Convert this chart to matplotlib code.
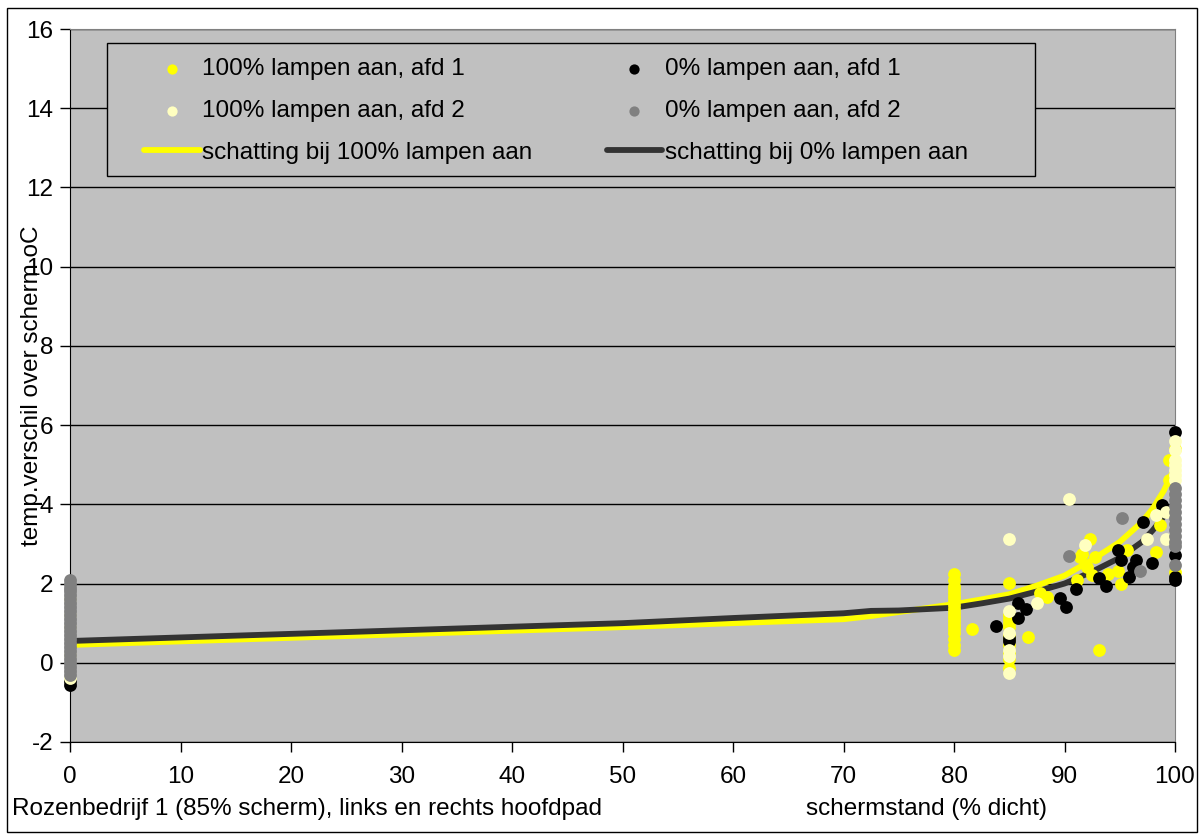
import matplotlib.pyplot as plt
from matplotlib.patches import Rectangle

plt.rcParams['font.family'] = ['Liberation Sans', 'DejaVu Sans']
plt.rcParams['axes.unicode_minus'] = False

# 100% lampen aan, afd 1
x_aan1 = [80, 80, 80, 80, 80, 80, 80, 80, 80, 80, 80, 80, 80, 80, 80, 80, 80, 80,
          81.6,
          85, 85, 85, 85, 85, 85, 85, 85, 85, 85, 85,
          86.7, 87.8, 88.4, 91.1, 91.4, 91.6, 92.0, 92.3, 92.5, 92.8, 93.9, 93.1,
          94.8, 95.1, 95.7, 98.3, 98.6, 99.5, 99.5, 100, 100]
y_aan1 = [2.25, 2.1, 1.95, 1.85, 1.75, 1.65, 1.55, 1.45, 1.35, 1.25, 1.15, 1.05,
          0.95, 0.85, 0.75, 0.6, 0.45, 0.32,
          0.85,
          2.02, 1.2, 1.1, 1.0, 0.9, 0.7, 0.6, 0.45, 0.25, 0.1, -0.12,
          0.65, 1.77, 1.65, 2.1, 2.68, 2.75, 2.43, 3.13, 2.22, 2.68, 2.25, 0.32,
          2.32, 2.0, 2.85, 2.8, 3.48, 5.13, 4.62, 2.3, 5.4]

# 100% lampen aan, afd 2
x_aan2 = [0, 0, 0, 0, 0,
          85, 85, 85, 85, 85, 85,
          87.5, 90.4, 91.9, 97.5, 98.3, 99.2, 99.2,
          100, 100, 100, 100, 100, 100, 100]
y_aan2 = [-0.38, 0.2, 0.9, 1.2, 1.6,
          3.13, 1.31, 0.75, 0.33, 0.16, -0.26,
          1.5, 4.14, 2.98, 3.13, 3.74, 3.8, 3.13,
          5.6, 5.38, 5.13, 5.0, 4.87, 4.75, 4.62]

# 0% lampen aan, afd 1
x_uit1 = [0, 0,
          83.8, 85, 85, 85.8, 86.5, 85.8, 89.6, 90.1, 91.0, 93.1, 93.8, 94.8,
          95.1, 96.5, 96.2, 95.8, 97.1, 97.9, 98.8,
          100, 100, 100, 100]
y_uit1 = [-0.55, -0.45,
          0.93, 0.54, 0.62, 1.52, 1.37, 1.14, 1.64, 1.41, 1.87, 2.14, 1.94, 2.85,
          2.6, 2.6, 2.43, 2.17, 3.56, 2.52, 3.99,
          5.82, 2.72, 2.17, 2.08]

# 0% lampen aan, afd 2
x_uit2 = [0] * 25 + [90.4, 95.2, 96.8] + [100] * 12
y_uit2 = [2.1, 2.0, 1.9, 1.8, 1.7, 1.6, 1.5, 1.4, 1.3, 1.2, 1.1, 1.0, 0.9, 0.8,
          0.7, 0.6, 0.5, 0.4, 0.3, 0.2, 0.1, 0.0, -0.1, -0.2, -0.3,
          2.7, 3.66, 2.32,
          4.42, 4.25, 4.1, 3.95, 3.8, 3.65, 3.5, 3.35, 3.2, 3.05, 2.95, 2.47]

# fitted estimates
est_x = [0, 50, 60, 70, 72.5, 75, 80, 82.5, 85, 87.5, 90, 92.5, 95, 96, 97, 98, 99, 100]
est_aan = [0.45, 0.9, 1.0, 1.1, 1.18, 1.28, 1.48, 1.6, 1.73, 1.95, 2.2, 2.6, 3.05,
           3.3, 3.55, 3.9, 4.35, 4.95]
est_uit = [0.55, 1.0, 1.13, 1.25, 1.31, 1.32, 1.39, 1.5, 1.62, 1.8, 2.0, 2.3, 2.65,
           2.85, 3.05, 3.35, 3.7, 4.05]

fs = 17.5

fig = plt.figure(figsize=(12.04, 8.34), dpi=100)
ax = fig.add_axes([70 / 1204, 92 / 834, 1105 / 1204, 713 / 834])
ax.set_facecolor('#C0C0C0')

l_aan, = ax.plot(est_x, est_aan, color='#FFFF00', lw=4.2, zorder=3,
                 solid_capstyle='round', label='schatting bij 100% lampen aan')
l_uit, = ax.plot(est_x, est_uit, color='#333333', lw=4.2, zorder=3,
                 solid_capstyle='round', label='schatting bij 0% lampen aan')

ms = 85
s1 = ax.scatter(x_aan1, y_aan1, s=ms, color='#FFFF00', linewidths=0, zorder=4,
                clip_on=False, label='100% lampen aan, afd 1')
s3 = ax.scatter(x_uit1, y_uit1, s=ms, color='black', linewidths=0, zorder=5,
                clip_on=False, label='0% lampen aan, afd 1')
s2 = ax.scatter(x_aan2, y_aan2, s=ms, color='#FFFFC0', linewidths=0, zorder=6,
                clip_on=False, label='100% lampen aan, afd 2')
s4 = ax.scatter(x_uit2, y_uit2, s=ms, color='#808080', linewidths=0, zorder=7,
                clip_on=False, label='0% lampen aan, afd 2')

ax.set_xlim(0, 100)
ax.set_ylim(-2, 16)
ax.set_xticks(range(0, 101, 10))
ax.set_yticks(range(-2, 17, 2))
ax.yaxis.grid(True, color='black', lw=1)
ax.set_axisbelow(True)
ax.tick_params(axis='both', direction='out', length=7, width=1, labelsize=fs)
ax.tick_params(axis='x', pad=10)
ax.tick_params(axis='y', pad=5)
for side in ['top', 'right']:
    ax.spines[side].set_color('#808080')
for side in ['left', 'bottom']:
    ax.spines[side].set_color('black')

# legend box
ax.add_patch(Rectangle((0.0335, 0.7938), 0.8398, 0.1866, transform=ax.transAxes,
                       facecolor='#C0C0C0', edgecolor='black', lw=1, zorder=8))
handles = [s1, s2, l_aan, s3, s4, l_uit]
leg = ax.legend(handles, [h.get_label() for h in handles],
                ncol=2, frameon=False, fontsize=fs, markerscale=0.8,
                scatterpoints=1, handlelength=2.3, handletextpad=0.1,
                columnspacing=3.05, labelspacing=0.82,
                loc='upper left', bbox_to_anchor=(0.047, 0.99))
leg.set_zorder(9)

fig.text(32 / 1204, 1 - 385.5 / 834, 'temp.verschil over scherm oC', rotation=90,
         ha='center', va='center', fontsize=fs)
fig.text(12 / 1204, 1 - 809 / 834, 'Rozenbedrijf 1 (85% scherm), links en rechts hoofdpad',
         ha='left', va='center', fontsize=fs)
fig.text(926 / 1204, 1 - 809 / 834, 'schermstand (% dicht)',
         ha='center', va='center', fontsize=fs)

# outer chart border
fig.patches.append(Rectangle((7 / 1204, 2 / 834), 1190 / 1204, 824 / 834,
                             transform=fig.transFigure, fill=False,
                             edgecolor='black', lw=1))

fig.savefig('out.png', dpi=100)
